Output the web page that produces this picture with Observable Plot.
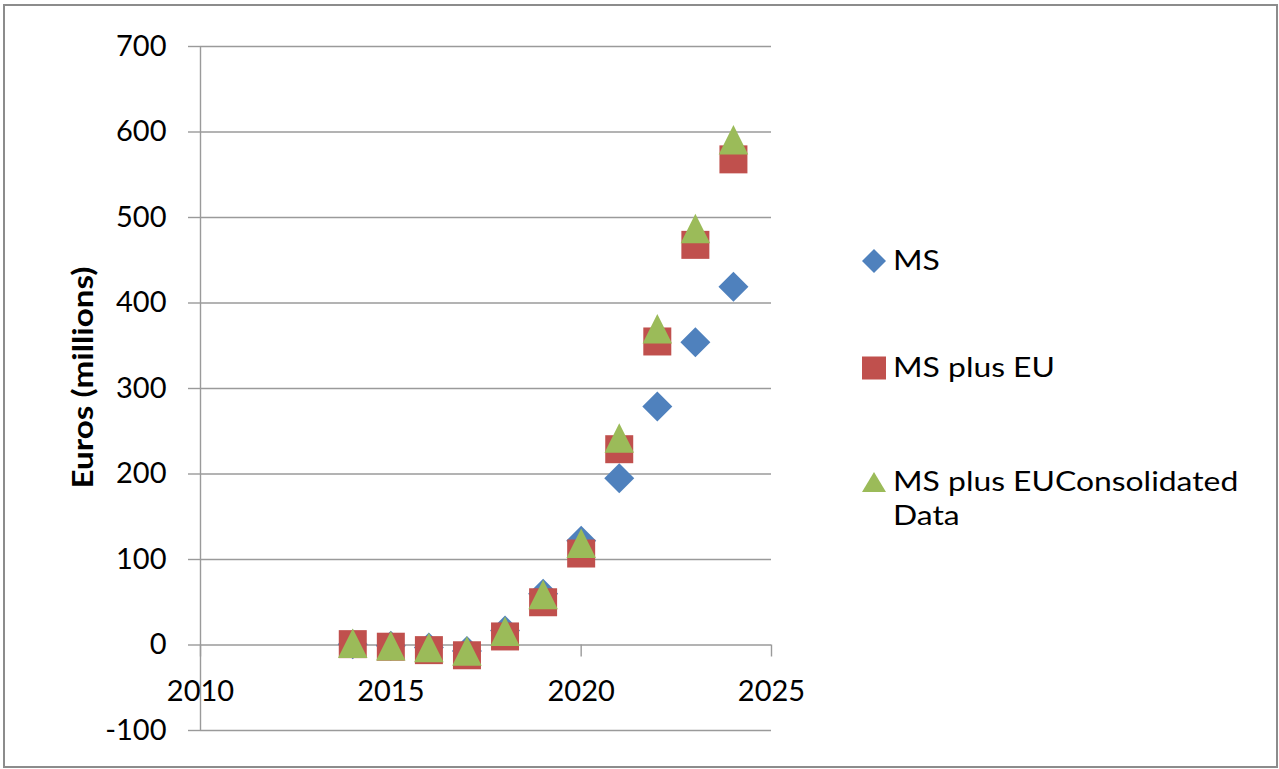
<!DOCTYPE html>
<html>
<head>
<meta charset="utf-8">
<script src="https://cdn.jsdelivr.net/npm/d3@7"></script>
<script src="https://cdn.jsdelivr.net/npm/@observablehq/plot@0.6"></script>
<style>
html, body { margin: 0; padding: 0; background: #fff; overflow: hidden; }
#wrap { position: relative; width: 1279px; height: 769px; font-family: Lato, sans-serif; }
#frame { position: absolute; left: 3px; top: 4px; width: 1271px; height: 760px; border: 2px solid #8c8c8c; pointer-events: none; }
#chart { position: absolute; left: 0; top: 0; }
.item { position: absolute; left: 862px; display: flex; align-items: flex-start; font-size: 27px; line-height: 34px; color: #000; }
.item svg { flex: none; margin-right: 7px; }
.item span { display: inline-block; transform: scaleX(1.18); transform-origin: left center; white-space: nowrap; }
</style>
</head>
<body>
<div id="wrap">
  <div id="chart"></div>
  <div id="legend"></div>
  <div id="frame"></div>
</div>
<script>
// ---- data ----
const years = [2014, 2015, 2016, 2017, 2018, 2019, 2020, 2021, 2022, 2023, 2024];
const ms = [1, -1, -3, -7, 17, 60, 122, 195, 279, 354, 419];
const msPlusEU = [1, -2, -6, -12, 10, 50, 107, 229, 355, 468, 568];
const msPlusEUConsolidated = [2, -1, -3, -7, 16, 59, 119, 242, 370, 487, 591];
const seriesNames = ["MS", "MS plus EU", "MS plus EUConsolidated Data"];
const seriesColors = ["#4F81BD", "#C0504D", "#9BBB59"];
const xTicks = [2010, 2015, 2020, 2025];
const yTicks = [-100, 0, 100, 200, 300, 400, 500, 600, 700];
const yLabel = "Euros (millions)";

// ---- symbols (Excel-like markers, centred on bounding box) ----
const diamondSym = { draw(ctx, size) { const r = Math.sqrt(size / Math.PI); ctx.moveTo(0, -r); ctx.lineTo(r, 0); ctx.lineTo(0, r); ctx.lineTo(-r, 0); ctx.closePath(); } };
const squareSym = { draw(ctx, size) { const r = Math.sqrt(size / Math.PI); ctx.moveTo(-r, -r); ctx.lineTo(r, -r); ctx.lineTo(r, r); ctx.lineTo(-r, r); ctx.closePath(); } };
const triangleSym = { draw(ctx, size) { const r = Math.sqrt(size / Math.PI); ctx.moveTo(0, -r); ctx.lineTo(r, r); ctx.lineTo(-r, r); ctx.closePath(); } };

const W = 1279, H = 769;
const grid = "#9a9a9a";

const chart = Plot.plot({
  width: W,
  height: H,
  marginLeft: 200,
  marginRight: W - 771,
  marginTop: 46,
  marginBottom: H - 730,
  x: { domain: [2010, 2025], axis: null },
  y: { domain: [-100, 700] },
  style: { fontFamily: "Lato, sans-serif", fontSize: "29px", color: "#000", background: "transparent" },
  marks: [
    Plot.ruleY(yTicks, { stroke: grid, strokeWidth: 1.4 }),
    Plot.ruleX([2010], { stroke: grid, strokeWidth: 1.4 }),
    Plot.axisY(yTicks, { tickSize: 12, tickPadding: 22, stroke: grid, strokeWidth: 1.4, tickFormat: d => String(d), label: null, fontSize: 29 }),
    Plot.ruleX(xTicks, { x: d => d, y1: 0, y2: 0, insetBottom: -12, stroke: grid, strokeWidth: 1.4 }),
    Plot.text(xTicks, { x: d => d, y: 0, text: d => String(d), dy: 47, fontSize: 29, fill: "#000" }),
    Plot.text([yLabel], { frameAnchor: "left", textAnchor: "middle", rotate: -90, dx: -116, dy: -11, fontSize: 28, fontWeight: "bold", fill: "#000" }),
    Plot.dot(years, { x: d => d, y: (d, i) => ms[i], symbol: diamondSym, r: 15, fill: seriesColors[0], stroke: "none" }),
    Plot.dot(years, { x: d => d, y: (d, i) => msPlusEU[i], symbol: squareSym, r: 14, fill: seriesColors[1], stroke: "none" }),
    Plot.dot(years, { x: d => d, y: (d, i) => msPlusEUConsolidated[i], symbol: triangleSym, r: 14.75, fill: seriesColors[2], stroke: "none" })
  ]
});
// stretch the axis title to the reference's width
d3.select(chart).selectAll("text").filter(function () { return this.textContent === yLabel; })
  .attr("textLength", 222).attr("lengthAdjust", "spacingAndGlyphs");
document.getElementById("chart").appendChild(chart);

// ---- legend ----
const legendTops = [243, 350, 464];
const swatches = [
  '<polygon points="12,0 24,12 12,24 0,12"/>',
  '<rect x="0" y="0.5" width="24" height="23"/>',
  '<polygon points="12,2 24,22 0,22"/>'
];
const legend = document.getElementById("legend");
seriesNames.forEach((name, i) => {
  const div = document.createElement("div");
  div.className = "item";
  div.style.top = legendTops[i] + "px";
  const label = name === "MS plus EUConsolidated Data" ? "MS plus EUConsolidated<br>Data" : name;
  div.innerHTML = `<svg width="24" height="24" style="margin-top:6px" fill="${seriesColors[i]}">${swatches[i]}</svg><span>${label}</span>`;
  legend.appendChild(div);
});
</script>
</body>
</html>
